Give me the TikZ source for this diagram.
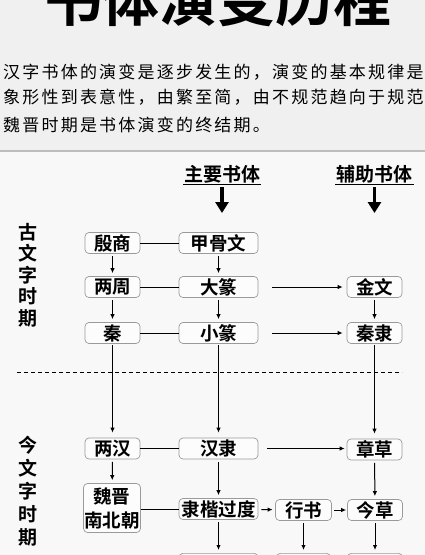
\documentclass[tikz,border=0pt]{standalone}
\usepackage{fontspec}
\setmainfont{Noto Sans CJK SC}[BoldFont={Noto Sans CJK SC Bold}]
\usepackage{tikz}
\usetikzlibrary{arrows.meta}
\usetikzlibrary{positioning}

\definecolor{topbg}{HTML}{F0F0F0}
\definecolor{lowbg}{HTML}{F8F8F8}
\definecolor{divline}{HTML}{BDBDBD}
\definecolor{boxline}{HTML}{9A9A9A}
\definecolor{boxfill}{HTML}{FCFCFC}

\begin{document}
\begin{tikzpicture}[x=1pt,y=-1pt,
    narrow/.style={minimum width=55pt},
    wide/.style={minimum width=79pt},
    tip/.style={-{Latex[length=5pt,width=4.5pt]}}]
    \useasboundingbox (0,0) rectangle (425,555);
    \clip (0,0) rectangle (425,555);
    \fill[lowbg] (0,0) rectangle (425,555);
    \fill[topbg] (0,0) rectangle (425,151);
    \draw[divline,line width=2.5pt] (0,151) -- (425,151);

    % title and text
    \node[anchor=base,inner sep=0pt,font=\fontsize{58}{58}\selectfont\bfseries] (title) at (218,21) {书体演变历程};
    \begin{scope}[every node/.style={anchor=base west,inner sep=0pt,
        font=\fontsize{17}{17}\selectfont\addfontfeature{LetterSpace=13}}]
      \node (line1) at (3,78.5) {汉字书体的演变是逐步发生的，演变的基本规律是};
      \node (line2) at (3,103.5) {象形性到表意性，由繁至简，由不规范趋向于规范};
      \node (line3) at (3,131.5) {魏晋时期是书体演变的终结期。};
    \end{scope}

    % headers
    \begin{scope}[every node/.style={inner sep=1pt,font=\fontsize{19}{19}\selectfont\bfseries}]
      \node (main) at (222,174) {主要书体};
      \node (aux) at (374.5,174) {辅助书体};
      \node[align=center,font=\fontsize{19}{21.5}\selectfont\bfseries] (ancient) at (28,275) {古\\文\\字\\时\\期};
      \node[align=center,font=\fontsize{19}{23}\selectfont\bfseries] (modern) at (28,491) {今\\文\\字\\时\\期};
    \end{scope}
    \coordinate (mainend) at (222,213);
    \coordinate (auxend) at (374.5,213);
    \draw[line width=1.3pt] (main.south west) -- (main.south east);
    \draw[line width=1.3pt] (aux.south west) -- (aux.south east);
    \draw[line width=3.5pt,shorten <=3pt,-{Triangle[length=11pt,width=13pt]}] (main.south) -- (mainend);
    \draw[line width=3.5pt,shorten <=3pt,-{Triangle[length=11pt,width=13pt]}] (aux.south) -- (auxend);

    \draw[line width=1pt,dash pattern=on 4pt off 3pt] (17,372) -- (402,372);

    % boxes
    \begin{scope}[every node/.style={draw=boxline,fill=boxfill,rounded corners=4pt,
        line width=0.7pt,minimum height=21pt,inner sep=0pt,
        font=\fontsize{18.5}{18.5}\selectfont\bfseries}]
      \node[narrow] (yinshang) at (112.5,243) {殷商};
      \node[wide] (jiagu) at (218.5,243) {甲骨文};
      \node[narrow] (liangzhou) at (112.5,287) {两周};
      \node[wide] (dazhuan) at (218.5,287) {大篆};
      \node[narrow] (jinwen) at (374.5,287) {金文};
      \node[narrow] (qin) at (112.5,333) {秦};
      \node[wide] (xiaozhuan) at (218.5,333) {小篆};
      \node[narrow] (qinli) at (374.5,333) {秦隶};
      \node[narrow] (lianghan) at (112.5,448.5) {两汉};
      \node[wide] (hanli) at (218.5,448.5) {汉隶};
      \node[narrow] (zhangcao) at (374.5,449.5) {章草};
      \node[minimum width=57pt,minimum height=49pt,align=center,
        font=\fontsize{18.5}{24}\selectfont\bfseries] (weijin) at (112,508) {魏晋\\南北朝};
      \node[wide] (likai) at (218.5,509) {隶楷过度};
      \node[minimum width=56pt] (xingshu) at (303.5,510) {行书};
      \node[narrow] (jincao) at (375,510) {今草};
      \node[wide,anchor=north] (low1) at (218.5,553) {};
      \node[minimum width=54pt,anchor=north] (low2) at (303.5,553) {};
      \node[narrow,anchor=north] (low3) at (375,553) {};
    \end{scope}

    % links
    \begin{scope}[every edge/.style={draw=black,line width=1pt}]
      \path (yinshang) edge (jiagu);
      \path (liangzhou) edge (dazhuan);
      \path (qin) edge (xiaozhuan);
      \path (lianghan) edge (hanli);
      \path (weijin.east |- likai) edge (likai);
    \end{scope}
    \begin{scope}[every edge/.style={draw=black,line width=1pt,tip,shorten <=2.5pt,shorten >=3pt}]
      \path (yinshang) edge (liangzhou);
      \path (jiagu) edge (dazhuan);
      \path (liangzhou) edge (qin);
      \path (dazhuan) edge (xiaozhuan);
      \path (jinwen) edge (qinli);
      \path (lianghan) edge (weijin);
      \path (hanli) edge (likai);
      \path (zhangcao) edge (jincao);
      \path (likai) edge (low1);
      \path (xingshu) edge (low2);
      \path (jincao) edge (low3);
    \end{scope}
    \begin{scope}[every edge/.style={draw=black,line width=1pt,tip,shorten <=1pt,shorten >=5pt}]
      \path (qin) edge (lianghan);
      \path (xiaozhuan) edge (hanli);
      \path (qinli) edge (zhangcao);
    \end{scope}
    \begin{scope}[every edge/.style={draw=black,line width=1pt,tip}]
      \path (dazhuan) edge[shorten <=14pt,shorten >=4pt] (jinwen);
      \path (xiaozhuan) edge[shorten <=14pt,shorten >=4pt] (qinli);
      \path (hanli.east) edge[shorten <=9pt,shorten >=2pt] (hanli.east -| zhangcao.west);
      \path (likai) edge[shorten <=3pt,shorten >=2.5pt] (xingshu);
      \path (xingshu) edge[shorten <=2.5pt,shorten >=1pt] (jincao);
    \end{scope}
\end{tikzpicture}
\end{document}
